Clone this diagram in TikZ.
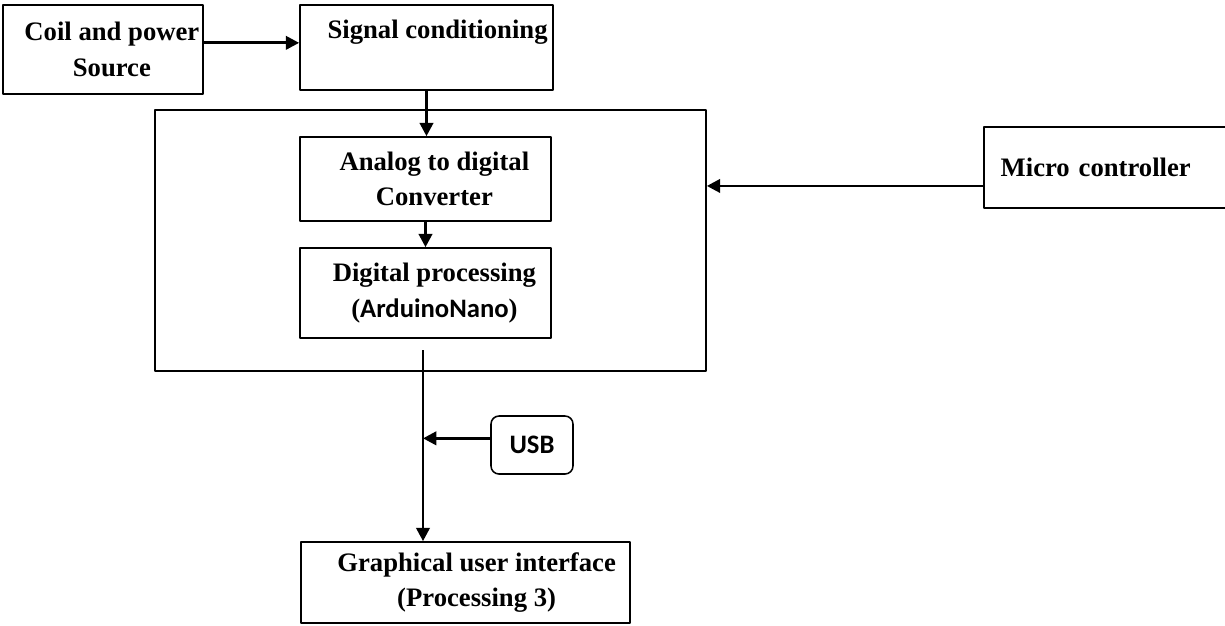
\documentclass[tikz,border=0pt]{standalone}
\usepackage{fontspec}
\setmainfont{Liberation Serif}
\newfontfamily\calibri{Carlito}
\usetikzlibrary{arrows.meta}
\begin{document}
\begin{tikzpicture}[x=0.45pt, y=-0.45pt, font=\fontsize{12}{16}\selectfont\bfseries, line join=round,
	box/.style={draw, line width=0.7pt, align=center, inner sep=0pt},
	link/.style={line width=1.3pt, -{Triangle[length=6pt,width=6pt]}}]
	\useasboundingbox (0,0) rectangle (1225,625);
	\clip (0,0) rectangle (1225,625);
	% blocks
	\node[box, minimum width=90pt, minimum height=40pt] (coil) at (103,49.5) {\hspace*{8pt}Coil and power\\\hspace*{8pt}Source};
	\node[box, minimum width=113.9pt, minimum height=38.3pt] (signal) at (426.5,47.5) {\hspace*{10pt}Signal conditioning\\~};
	\node[box, minimum width=248pt, minimum height=117.5pt] (mcu) at (430.5,240.5) {};
	\node[box, minimum width=113pt, minimum height=37.8pt] (adc) at (425.5,179) {\hspace*{8pt}Analog to digital\\\hspace*{8pt}Converter};
	\node[box, minimum width=113pt, minimum height=40.5pt] (dp) at (425.5,293) {\hspace*{8pt}Digital processing\\\hspace*{8pt}({\calibri ArduinoNano})};
	\node[box, text width=105pt, align=left, inner xsep=7.6pt, minimum height=36.5pt, anchor=west] (micro) at (983,167.5) {Micro controller};
	\node[box, rounded corners=3.6pt, minimum width=36.9pt, minimum height=26.1pt, font=\fontsize{12}{16}\selectfont\calibri\bfseries] (usb) at (532,445) {USB};
	\node[box, minimum width=148pt, minimum height=36.5pt] (gui) at (465.5,582.5) {\hspace*{10pt}Graphical user interface\\\hspace*{10pt}(Processing 3)};
	\coordinate (dpout) at (423,350);
	% connections
	\draw[link] ([yshift=3pt]coil.east) -- ([yshift=3pt]coil.east -| signal.west);
	\draw[link] (signal.south) -- (signal.south |- adc.north);
	\draw[link] (adc) -- (dp);
	\draw[link] ([yshift=-8.3pt]micro.west) -- ([yshift=-8.3pt]micro.west -| mcu.east);
	\draw[link] (dpout) -- (dpout |- gui.north);
	\draw[link] ([yshift=3pt]usb.west) -- ([yshift=3pt]usb.west -| dpout);
\end{tikzpicture}
\end{document}
